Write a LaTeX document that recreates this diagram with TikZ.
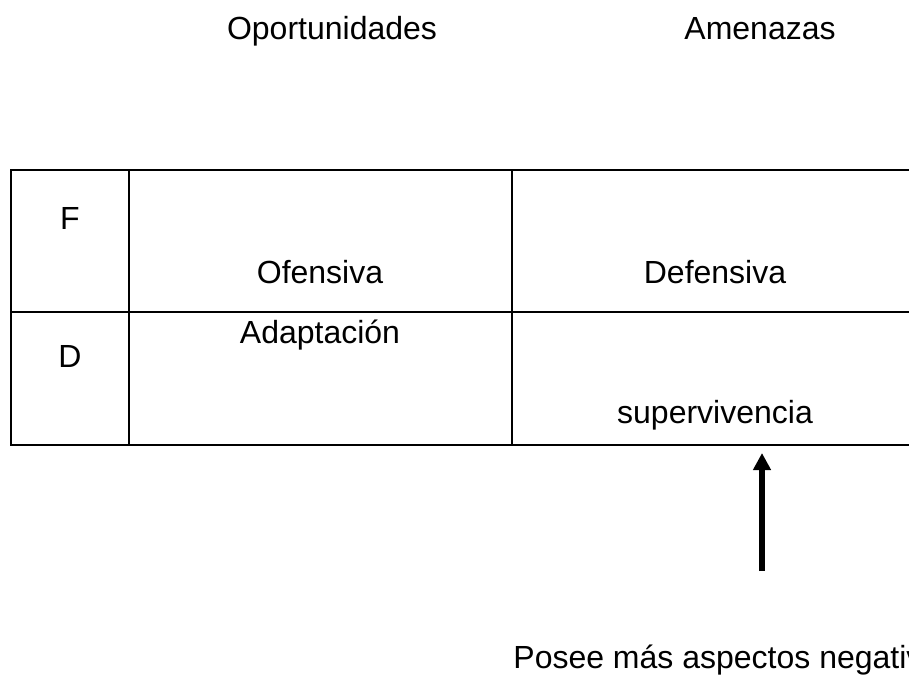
\documentclass[tikz,border=0pt]{standalone}
\usepackage{fontspec}
\setmainfont{Liberation Sans}
\usetikzlibrary{arrows.meta}
\begin{document}
\begin{tikzpicture}[x=0.5pt,y=-0.5pt,
  lbl/.style={font=\fontsize{16}{19}\selectfont, inner sep=0pt, anchor=base},
  gridline/.style={line width=1.05pt, line cap=rect},
  bigarrow/.style={line width=3pt, -{Triangle[length=8.5pt,width=8.5pt]}}]
\useasboundingbox (0,0) rectangle (909,675);
\clip (0,0) rectangle (909,675);
% table
\coordinate (tl) at (11,170);
\coordinate (ml) at (11,312);
\coordinate (bl) at (11,445);
\coordinate (tr) at (960,170);
\coordinate (mr) at (960,312);
\coordinate (br) at (960,445);
\coordinate (c1t) at (129,170);
\coordinate (c1b) at (129,445);
\coordinate (c2t) at (512,170);
\coordinate (c2b) at (512,445);
\draw[gridline] (tl) -- (tr);
\draw[gridline] (ml) -- (mr);
\draw[gridline] (bl) -- (br);
\draw[gridline] (tl) -- (bl);
\draw[gridline] (c1t) -- (c1b);
\draw[gridline] (c2t) -- (c2b);
% headers
\node[lbl] (op) at (332,39) {Oportunidades};
\node[lbl] (am) at (760,39) {Amenazas};
% cells
\node[lbl] (f) at (70,229) {F};
\node[lbl] (d) at (70,367) {D};
\node[lbl] (of) at (320,283) {Ofensiva};
\node[lbl] (de) at (715,283) {Defensiva};
\node[lbl] (ad) at (320,343) {Adaptación};
\node[lbl] (su) at (715,423) {supervivencia};
% arrow and note
\node[lbl, anchor=base west] (po) at (513,668) {Posee más aspectos negativos};
\coordinate (tail) at (762,571);
\coordinate (tip) at (762,453);
\draw[bigarrow] (tail) -- (tip);
\end{tikzpicture}
\end{document}
